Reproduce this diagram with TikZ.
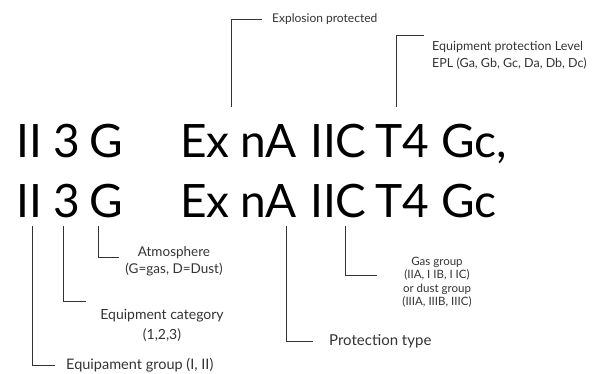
\documentclass[tikz,border=0pt]{standalone}
\usepackage{fontspec}
\setmainfont{Lato}
\begin{document}
\begin{tikzpicture}[x=1pt,y=-1pt,
  big/.style={inner sep=0pt,anchor=base west,font=\fontsize{46}{50}\selectfont},
  lab/.style={inner sep=0pt,text=black!80},
  conn/.style={draw=black!80,line width=0.8pt}]
\path[use as bounding box] (0,0) rectangle (610,374);
% line 1
\node[big] (a1) at (16,158) {II};
\node[big] (b1) at (53,158) {3};
\node[big] (c1) at (89,158) {G};
\node[big] (d1) at (180,158) {Ex};
\node[big] (e1) at (240,158) {nA};
\node[big] (f1) at (310,158) {IIC};
\node[big] (g1) at (375,158) {T4};
\node[big] (h1) at (441,158) {Gc,};
% line 2
\node[big] (a2) at (16,217) {II};
\node[big] (b2) at (53,217) {3};
\node[big] (c2) at (89,217) {G};
\node[big] (d2) at (180,217) {Ex};
\node[big] (e2) at (240,217) {nA};
\node[big] (f2) at (310,217) {IIC};
\node[big] (g2) at (375,217) {T4};
\node[big] (h2) at (441,217) {Gc};
% connector start points
\coordinate (pEx) at (231,107);
\coordinate (pT4) at (396,107);
\coordinate (pII) at (32,226);
\coordinate (p3) at (63,226);
\coordinate (pG) at (98,226);
\coordinate (pnA) at (286,226);
\coordinate (pIIC) at (345,226);
% labels
\node[lab,anchor=west,font=\fontsize{12}{15}\selectfont] (lEx) at (272,19) {Explosion protected};
\node[lab,anchor=north west,align=left,font=\fontsize{12.5}{17}\selectfont] (lT4) at (432,41) {Equipment protection Level\\EPL (Ga, Gb, Gc, Da, Db, Dc)};
\node[lab,align=center,font=\fontsize{13.5}{17}\selectfont] (lG) at (174,261.5) {Atmosphere\\(G=gas, D=Dust)};
\node[lab,anchor=north,align=center,font=\fontsize{14}{20}\selectfont] (l3) at (162,309) {Equipment category\\(1,2,3)};
\node[lab,anchor=west,font=\fontsize{14.5}{17}\selectfont] (lII) at (66,365) {Equipament group (I, II)};
\node[lab,anchor=west,font=\fontsize{15}{18}\selectfont] (lnA) at (329,341) {Protection type};
\node[lab,align=center,font=\fontsize{11.5}{13.5}\selectfont] (lIIC) at (437,282) {Gas group\\(IIA, I IB, I IC)\\or dust group\\(IIIA, IIIB, IIIC)};
% connectors
\draw[conn] (pEx) |- ([xshift=-10pt]lEx.west);
\draw[conn] (pT4) |- ([xshift=-8pt,yshift=6pt]lT4.north west);
\draw[conn] (pG) |- ([xshift=-55pt,yshift=4pt]lG.center);
\draw[conn] (p3) |- ([xshift=-76pt,yshift=8pt]l3.north);
\draw[conn] (pII) |- ([xshift=-11pt]lII.west);
\draw[conn] (pnA) |- ([xshift=-16pt]lnA.west);
\draw[conn] (pIIC) |- ([xshift=-60pt,yshift=7pt]lIIC.center);
\end{tikzpicture}
\end{document}
